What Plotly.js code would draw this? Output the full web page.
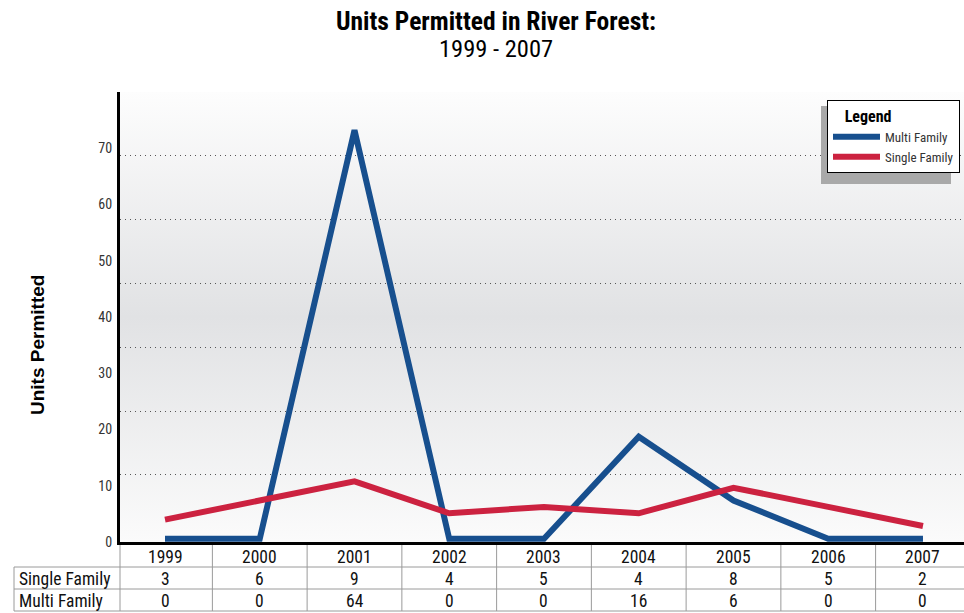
<!DOCTYPE html>
<html>
<head>
<meta charset="utf-8">
<script src="https://cdn.plot.ly/plotly-3.0.1.min.js"></script>
<style>
  html, body { margin: 0; padding: 0; background: #ffffff; }
  #chart { width: 964px; height: 613px; }
</style>
</head>
<body>
<div id="chart"></div>
<script>
// ---- data ----
const years = ['1999', '2000', '2001', '2002', '2003', '2004', '2005', '2006', '2007'];
const singleFamily = [3, 6, 9, 4, 5, 4, 8, 5, 2];
const multiFamily = [0, 0, 64, 0, 0, 16, 6, 0, 0];
const seriesNames = ['Multi Family', 'Single Family'];
const rowLabels = ['Single Family', 'Multi Family'];
const yTickLabels = [0, 10, 20, 30, 40, 50, 60, 70];
const gridVals = [10, 20, 30, 40, 50, 60, 70];
const titleLine1 = 'Units Permitted in River Forest:';
const titleLine2 = '1999 - 2007';
const yTitle = 'Units Permitted';

// ---- font detection (system fonts only) ----
function fontAvailable(name) {
  const ctx = document.createElement('canvas').getContext('2d');
  const txt = 'Units Permitted 1999 mmmwwwiiilll';
  for (const base of ['monospace', 'serif', 'sans-serif']) {
    ctx.font = '40px ' + base;
    const w0 = ctx.measureText(txt).width;
    ctx.font = '40px "' + name + '", ' + base;
    const w1 = ctx.measureText(txt).width;
    if (Math.abs(w1 - w0) > 0.5) return true;
  }
  return false;
}
const narrowCands = ['Liberation Sans Narrow', 'Arial Narrow', 'Roboto Condensed', 'DejaVu Sans Condensed',
                     'Noto Sans Condensed', 'Open Sans Condensed'];
let narrowName = null;
for (const c of narrowCands) { if (fontAvailable(c)) { narrowName = c; break; } }
const NARROW = narrowName ? '"' + narrowName + '", "Liberation Sans", sans-serif' : '"Liberation Sans", Arial, sans-serif';
const isNarrow = !!narrowName;
const tblSize = isNarrow ? 17.5 : 15;

// ---- style / geometry ----
const BLUE = '#174f8e';
const RED = '#cc2240';
const TBL_LINE = '#9a9a9a';
const W = 964, H = 613;
const mT = 92, mB = 2;
const plotH = H - mT - mB;           // 519
const axisBottomPx = 542;
const yDomLo = (H - mB - axisBottomPx) / plotH;
const xDomLo = 120 / W;
const py = p => (H - mB - p) / plotH;   // pixel row -> paper y
const px = p => p / W;                  // pixel col -> paper x
const rowEdges = [545, 567, 589, 611];  // table row boundaries (px)
const rowMid = k => py((rowEdges[k] + rowEdges[k + 1]) / 2 + 0.5);
const tableLeftPx = 14;

const gradSvg = '<svg xmlns="http://www.w3.org/2000/svg" width="100" height="100" preserveAspectRatio="none">' +
  '<defs><linearGradient id="g" x1="0" y1="0" x2="0" y2="1">' +
  '<stop offset="0" stop-color="#fdfdfd"/>' +
  '<stop offset="0.5" stop-color="#e1e2e4"/>' +
  '<stop offset="1" stop-color="#fbfbfb"/>' +
  '</linearGradient></defs><rect width="100" height="100" fill="url(#g)"/></svg>';
const gradUri = 'data:image/svg+xml;charset=utf-8,' + encodeURIComponent(gradSvg);

const traces = [
  {
    type: 'scatter', mode: 'lines', name: seriesNames[0], legendgroup: 'mf',
    x: years, y: multiFamily, xaxis: 'x', yaxis: 'y',
    line: { color: BLUE, width: 6 }, hoverinfo: 'skip'
  },
  {
    type: 'scatter', mode: 'lines', name: seriesNames[1], legendgroup: 'sf',
    x: years, y: singleFamily, xaxis: 'x', yaxis: 'y',
    line: { color: RED, width: 6 }, hoverinfo: 'skip'
  },
  {
    type: 'scatter', mode: 'lines', x: [], y: [], xaxis: 'x', yaxis: 'y2',
    showlegend: false, hoverinfo: 'skip'
  }
];

// ---- data table (text placed through the x scale, borders at category edges) ----
const tblFont = { family: NARROW, size: tblSize, color: '#111' };
const tableAnns = [];
years.forEach((yr, i) => {
  // category axis: annotation x is the category's serial index
  tableAnns.push({ text: yr, xref: 'x', yref: 'paper', x: i, y: rowMid(0),
    xanchor: 'center', yanchor: 'middle', showarrow: false, font: tblFont });
  tableAnns.push({ text: String(singleFamily[i]), xref: 'x', yref: 'paper', x: i, y: rowMid(1),
    xanchor: 'center', yanchor: 'middle', showarrow: false, font: tblFont });
  tableAnns.push({ text: String(multiFamily[i]), xref: 'x', yref: 'paper', x: i, y: rowMid(2),
    xanchor: 'center', yanchor: 'middle', showarrow: false, font: tblFont });
});
rowLabels.forEach((lab, k) => {
  tableAnns.push({ text: lab, xref: 'paper', yref: 'paper', x: px(tableLeftPx + 3), y: rowMid(k + 1),
    xanchor: 'left', yanchor: 'middle', showarrow: false, font: tblFont });
});

const tableShapes = [];
const lineStyle = { color: TBL_LINE, width: 1 };
for (let i = 0; i < years.length; i++) {
  tableShapes.push({ type: 'line', xref: 'x', yref: 'paper', x0: i + 0.5, x1: i + 0.5,
    y0: py(rowEdges[0]), y1: py(rowEdges[3]), line: lineStyle, layer: 'above' });
}
tableShapes.push({ type: 'line', xref: 'paper', yref: 'paper', x0: px(120), x1: px(120),
  y0: py(rowEdges[0]), y1: py(rowEdges[3]), line: lineStyle, layer: 'above' });
tableShapes.push({ type: 'line', xref: 'paper', yref: 'paper', x0: px(tableLeftPx), x1: px(tableLeftPx),
  y0: py(rowEdges[1]), y1: py(rowEdges[3]), line: lineStyle, layer: 'above' });
[1, 2, 3].forEach(k => {
  tableShapes.push({ type: 'line', xref: 'paper', yref: 'paper', x0: px(tableLeftPx), x1: 1,
    y0: py(rowEdges[k]), y1: py(rowEdges[k]), line: lineStyle, layer: 'above' });
});

const layout = {
  width: W, height: H,
  margin: { l: 0, r: 0, t: mT, b: mB, pad: 0 },
  paper_bgcolor: '#ffffff',
  plot_bgcolor: 'rgba(0,0,0,0)',
  font: { family: NARROW, color: '#222' },
  xaxis: {
    type: 'category',
    domain: [xDomLo, 1],
    range: [-0.475, 8.433],
    showticklabels: false, ticks: '',
    showgrid: false, zeroline: false,
    showline: true, linecolor: '#000', linewidth: 3,
    anchor: 'y'
  },
  yaxis: {
    domain: [yDomLo, 1],
    range: [-0.5, 70],
    tickvals: gridVals,
    showticklabels: false, ticks: '',
    showgrid: true, gridcolor: '#555', gridwidth: 1, griddash: '1px,4px',
    zeroline: false,
    showline: true, linecolor: '#000', linewidth: 3,
    anchor: 'x'
  },
  yaxis2: {
    overlaying: 'y', anchor: 'x', side: 'left',
    range: [0, 80],
    tickvals: yTickLabels,
    ticks: 'outside', ticklen: 4, tickcolor: 'rgba(0,0,0,0)',
    showgrid: false, zeroline: false, showline: false,
    tickfont: { family: NARROW, size: isNarrow ? 14 : 12, color: '#333' }
  },
  legend: {
    x: px(827), xanchor: 'left',
    y: py(100), yanchor: 'top',
    bgcolor: '#ffffff', bordercolor: '#000', borderwidth: 1,
    font: { family: NARROW, size: isNarrow ? 13 : 11, color: '#333' },
    itemwidth: 47,
    tracegroupgap: 12,
    title: { text: '&nbsp;&nbsp;&nbsp;&nbsp;<b>Legend</b>', side: 'top', font: { family: NARROW, size: 16, color: '#000' } },
    traceorder: 'normal'
  },
  images: [{
    source: gradUri, xref: 'paper', yref: 'paper',
    x: xDomLo, y: 1, sizex: 1 - xDomLo, sizey: 1 - yDomLo,
    xanchor: 'left', yanchor: 'top', sizing: 'stretch', layer: 'below'
  }],
  shapes: [{
    type: 'rect', xref: 'paper', yref: 'paper',
    x0: px(821), x1: px(951),
    y0: py(184), y1: py(106),
    fillcolor: '#a9a9a9', line: { width: 0 }, layer: 'above'
  }].concat(tableShapes),
  annotations: [
    {
      text: '<b>' + titleLine1 + '</b>', xref: 'paper', yref: 'paper',
      x: px(496), y: py(21), xanchor: 'center', yanchor: 'middle', showarrow: false,
      font: { family: NARROW, size: 25.5, color: '#000' }
    },
    {
      text: titleLine2, xref: 'paper', yref: 'paper',
      x: px(496), y: py(49), xanchor: 'center', yanchor: 'middle', showarrow: false,
      font: { family: NARROW, size: 24.5, color: '#000' }
    },
    {
      text: '<b>' + yTitle + '</b>', xref: 'paper', yref: 'paper',
      x: px(37), y: py(345), xanchor: 'center', yanchor: 'middle',
      textangle: -90, showarrow: false,
      font: { family: '"Liberation Sans", Arial, sans-serif', size: 19, color: '#000' }
    }
  ].concat(tableAnns),
  showlegend: true
};

Plotly.newPlot('chart', traces, layout, { displayModeBar: false, staticPlot: true });
</script>
</body>
</html>
